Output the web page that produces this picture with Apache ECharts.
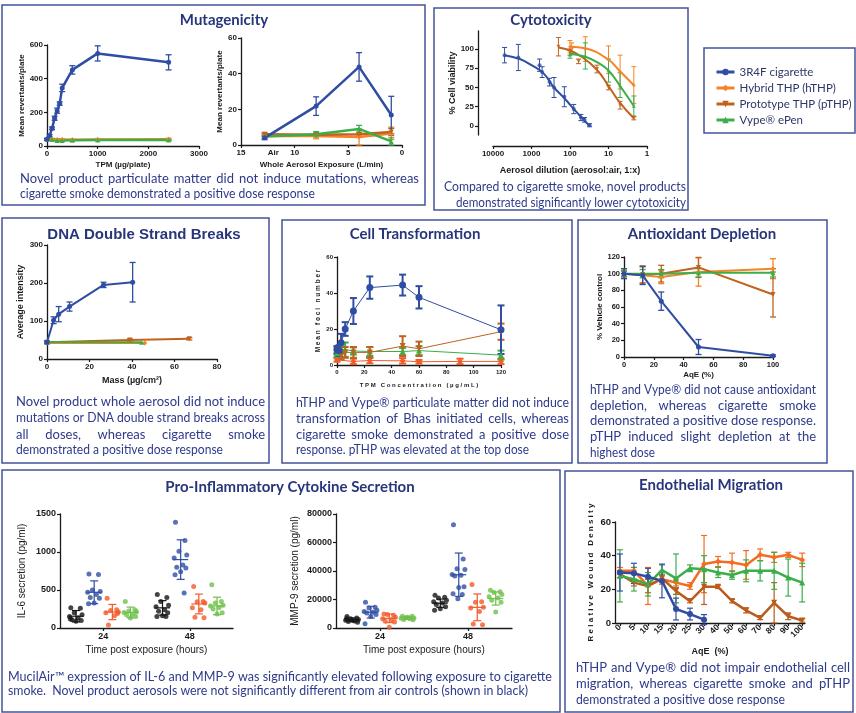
<!DOCTYPE html>
<html>
<head>
<meta charset="utf-8">
<script src="https://cdn.jsdelivr.net/npm/echarts@6.0.0/dist/echarts.min.js"></script>
<style>
  html, body { margin: 0; padding: 0; background: #fff; }
  #chart { width: 856px; height: 713px; }
</style>
</head>
<body>
<div id="chart"></div>
<script>
// ---- data ----

// Mutagenicity, TPM (µg/plate)
var mutTpmX = [0, 50, 100, 150, 200, 250, 300, 500, 1000, 2400];
var mutTpm3r4f = [40, 62, 105, 165, 210, 252, 345, 452, 550, 497];
var mutTpm3r4fErr = [5, 6, 8, 12, 15, 10, 22, 25, 45, 45];
var mutTpmNovX = [0, 100, 200, 300, 500, 1000, 2400];
var mutTpmHthp = [38, 40, 38, 38, 37, 38, 40];
var mutTpmHthpErr = [5, 5, 4, 4, 4, 4, 6];
var mutTpmVype = [40, 38, 33, 33, 34, 36, 35];
var mutTpmVypeErr = [5, 5, 4, 4, 4, 4, 4];

// Mutagenicity, whole aerosol (L/min); first point is the air control
var mutWaX = [12.8, 8, 4, 1];
var mutWa3r4f = [4, 21.8, 43.8, 16.8];
var mutWa3r4fErr = [1, 5.2, 8, 10.5];
var mutWaHthp = [5, 5, 4.5, 6.5];
var mutWaHthpErr = [1.5, 1.5, 4.5, 3.5];
var mutWaPthp = [6, 5.8, 6, 7.3];
var mutWaPthpErr = [1, 1, 1, 2];
var mutWaVype = [4.8, 6, 9, 2];
var mutWaVypeErr = [1, 1.5, 2, 2];
var mutWaLabels = [15, 12, 10, 5, 0];

// Cytotoxicity (dilution 1:x, % viability)
var cytX3r4f = [5000, 2200, 620, 530, 340, 260, 140, 80, 52, 42, 31];
var cyt3r4f = [92, 89, 79, 70, 57, 50, 38, 22, 11, 8, 1];
var cyt3r4fErr = [10, 17, 8, 7, 5, 13, 13, 6, 4, 3, 2];
var cytFitX3r4f = [5000, 2000, 1000, 500, 260, 140, 70, 31];
var cytFit3r4f = [92, 87, 79, 69, 50, 36, 19, 0];
var cytXHthp = [100, 90, 40, 10, 5, 2.2];
var cytHthp = [103, 101, 100, 86, 70, 53];
var cytHthpErr = [8, 7, 16, 18, 22, 24];
var cytFitXHthp = [100, 40, 10, 5, 2.2];
var cytFitHthp = [103, 101, 86, 71, 53];
var cytXPthp = [200, 100, 60, 20, 10, 5, 2.2];
var cytPthp = [103, 96, 84, 74, 50, 27, 10];
var cytPthpErr = [12, 4, 3, 5, 3, 5, 2];
var cytFitXPthp = [200, 100, 50, 20, 10, 5, 2.2];
var cytFitPthp = [102, 98, 90, 73, 52, 30, 10];
var cytXVype = [100, 40, 10, 5, 2.2];
var cytVype = [93, 91, 72, 53, 26];
var cytVypeErr = [5, 17, 15, 16, 13];
var cytFitXVype = [100, 40, 20, 10, 5, 2.2];
var cytFitVype = [94, 90, 83, 72, 52, 26];
var cytYLabels = [0, 25, 50, 75, 100];

// DNA double strand breaks (mass µg/cm2, intensity)
var dnaX3r4f = [0, 3.1, 5.5, 10.6, 26.6, 40.3];
var dna3r4f = [44, 102, 118, 138, 195, 202];
var dna3r4fErr = [4, 9, 20, 12, 7, 52];
var dnaXPthp = [0, 39, 67];
var dnaPthp = [44, 50, 53];
var dnaPthpErr = [2, 3, 3];
var dnaXHthp = [0, 46];
var dnaHthp = [42, 42];
var dnaXVype = [0, 44.5];
var dnaVype = [45, 44];

// Cell transformation (TPM µg/mL, foci)
var ctaX3r4f = [0, 1.5, 3, 6, 12, 24, 48, 60, 120];
var cta3r4f = [8.5, 8, 12.3, 20, 30, 43, 44.4, 37.6, 19.6];
var cta3r4fErr = [2, 3, 5, 3.8, 7.2, 6.2, 5.8, 6.2, 13.5];
var ctaXNov = [0, 3, 6, 12, 24, 48, 60, 120];
var ctaPthp = [8, 5, 7, 7, 7, 10.5, 9, 18.5];
var ctaPthpErr = [2, 2, 3, 3, 3, 5.5, 4, 4.5];
var ctaVype = [6.5, 9, 8.5, 7.8, 7.5, 7.5, 8, 5.5];
var ctaVypeErr = [2, 2.5, 4, 2, 2.5, 2, 2.5, 2.5];
var ctaXHthp = [0, 12, 24, 48, 60, 90, 120];
var ctaHthp = [2.8, 2, 2.5, 2.3, 1.8, 2, 2];
var ctaHthpErr = [1, 1.5, 1.5, 1.5, 1, 1.5, 1.5];

// Antioxidant depletion (AqE %, % vehicle control)
var aoX = [0, 12.5, 25, 50, 100];
var ao3r4f = [100, 98, 67, 12, 1.5];
var ao3r4fErr = [6, 11, 11, 9, 1];
var aoHthp = [100, 98, 96, 102, 106];
var aoHthpErr = [4, 10, 8, 17, 12];
var aoPthp = [100, 99, 100, 107.5, 75];
var aoPthpErr = [3, 10, 10, 12, 27];
var aoVype = [100, 100, 100, 101, 101];
var aoVypeErr = [4, 5, 5, 5, 5];

// Cytokines: individual wells per group (air, 3R4F, hTHP, Vype)
var il6Air24 = [265, 260, 200, 175, 150, 130, 110, 100, 90, 120];
var il63r4f24 = [710, 705, 500, 480, 470, 440, 400, 390, 330, 320];
var il6Hthp24 = [390, 240, 230, 210, 200, 160, 40, 190];
var il6Vype24 = [350, 240, 225, 215, 205, 180, 175, 150, 130];
var il6Air48 = [440, 400, 350, 300, 280, 240, 220, 200, 160, 150, 150];
var il63r4f48 = [1390, 1150, 1010, 960, 920, 830, 800, 790, 740, 700, 460];
var il6Hthp48 = [545, 350, 345, 330, 265, 240, 140, 135];
var il6Vype48 = [570, 350, 330, 300, 290, 270, 250, 200, 185];
var il6Mean = [155, 470, 210, 205, 265, 900, 316, 290];
var il6Sd = [75, 150, 100, 70, 95, 260, 130, 115];

var mmpAir24 = [8000, 7000, 6500, 6000, 5500, 5000, 4500, 4000, 5500, 6500];
var mmp3r4f24 = [18000, 14500, 14000, 12500, 11500, 11000, 10500, 9500, 8000, 3000];
var mmpHthp24 = [9800, 9000, 9400, 7500, 6500, 5800, 4700, 4200, 500];
var mmpVype24 = [8300, 8200, 7200, 7000, 6800, 6500, 6000, 5800, 7500];
var mmpAir48 = [23000, 21500, 21000, 19500, 18500, 17500, 16500, 15000, 13500, 12500];
var mmp3r4f48 = [72500, 48500, 41500, 41000, 37500, 37000, 36500, 29000, 28500, 24000, 23500, 20500];
var mmpHthp48 = [30500, 18500, 18000, 14500, 14000, 11500, 2800, 2200];
var mmpVype48 = [26500, 25500, 25000, 23500, 22000, 21000, 19500, 18000, 11200];
var mmpMean = [5800, 11100, 6800, 7100, 17400, 37400, 14500, 20700];
var mmpSd = [1300, 4100, 3000, 1000, 2900, 15200, 9400, 4600];
var timeLabels = ['24', '48'];

// Endothelial migration (AqE %, relative wound density)
var endoCats = ['0', '5', '10', '15', '20', '25', '30', '40', '50', '60', '70', '80', '90', '100'];
var endo3r4f = [30, 29.5, 27.5, 25, 8.3, 5.3, 2];
var endo3r4fErr = [11, 6, 5, 10, 6.5, 3.5, 3];
var endoHthp = [31, 31, 22, 26, 24, 22, 35, 36.5, 36, 34.5, 40.5, 39, 40.5, 37.5];
var endoHthpErr = [2, 2, 11, 3, 2, 2, 17, 3, 5.5, 8.5, 3.5, 3, 1.5, 4];
var endoPthp = [29, 24, 22, 26.5, 19, 13, 21.5, 21.5, 13, 7.5, 3, 12, 4, 1.5];
var endoPthpErr = [2, 2, 4, 2, 2, 1, 10.5, 1, 1, 1.5, 1, 12, 2, 1];
var endoVype = [28, 26, 23, 31.5, 26.5, 32.5, 32, 30, 28.5, 31, 31, 31, 27, 24];
var endoVypeErr = [15.5, 7, 7, 3, 14.5, 2, 8, 3, 2.5, 6.5, 6, 11, 11, 11.5];

var legendNames = ['3R4F cigarette', 'Hybrid THP (hTHP)', 'Prototype THP (pTHP)', 'Vype\u00AE ePen'];

// ---- styling ----
var BLUE = '#2f4ea3', ORANGE = '#f58426', BROWN = '#c1621e', GREEN = '#3bae4a';
var RED_OR = '#f15a29', LGREEN = '#6fc04b', BLACK = '#151515';
var INK = '#1a1a1a', NAVY = '#27367a', CAPC = '#2e3a8a', BOX = '#44539a';
var SYM = {
  blue: ['circle', 0], orange: ['diamond', 0], brown: ['triangle', 180], green: ['triangle', 0]
};

function merge(a, b) {
  var o = {}, k;
  for (k in a) o[k] = a[k];
  for (k in b) {
    if (b[k] && typeof b[k] === 'object' && !Array.isArray(b[k]) && a[k] && typeof a[k] === 'object') o[k] = merge(a[k], b[k]);
    else o[k] = b[k];
  }
  return o;
}

function axis(gi, opt) {
  return merge({
    type: 'value', gridIndex: gi, nameLocation: 'middle',
    axisLine: { show: true, onZero: false, lineStyle: { color: INK, width: 1.3 } },
    axisTick: { show: true, length: 3, lineStyle: { color: INK, width: 1.2 } },
    axisLabel: { color: INK, fontSize: 8, fontWeight: 'bold', fontFamily: 'Liberation Sans', margin: 4 },
    splitLine: { show: false },
    nameTextStyle: { color: INK, fontSize: 8, fontWeight: 'bold', fontFamily: 'Liberation Sans' }
  }, opt);
}

function errRender(cap, lw, color, meanW) {
  return function (params, api) {
    var x = api.value(0);
    var a = api.coord([x, api.value(1)]), b = api.coord([x, api.value(2)]);
    var st = { stroke: color, lineWidth: lw };
    var ch = [
      { type: 'line', shape: { x1: a[0], y1: a[1], x2: b[0], y2: b[1] }, style: st },
      { type: 'line', shape: { x1: a[0] - cap, y1: a[1], x2: a[0] + cap, y2: a[1] }, style: st },
      { type: 'line', shape: { x1: b[0] - cap, y1: b[1], x2: b[0] + cap, y2: b[1] }, style: st }
    ];
    if (meanW) {
      var m = api.coord([x, api.value(3)]);
      ch.push({ type: 'line', shape: { x1: m[0] - meanW, y1: m[1], x2: m[0] + meanW, y2: m[1] }, style: st });
    }
    return { type: 'group', children: ch };
  };
}

function errSeries(gi, xs, ys, es, color, cap, lw) {
  return {
    type: 'custom', xAxisIndex: gi, yAxisIndex: gi, silent: true, animation: false, z: 2,
    data: xs.map(function (x, i) { return [x, ys[i] - es[i], ys[i] + es[i]]; }),
    encode: { x: 0, y: [1, 2] },
    renderItem: errRender(cap, lw, color)
  };
}

var series = [];
function addGroup(gi, xs, ys, es, color, sym, o) {
  o = o || {};
  series.push({
    type: 'line', xAxisIndex: gi, yAxisIndex: gi, silent: true, animation: false, z: 3,
    data: xs.map(function (x, i) { return [x, ys[i]]; }),
    symbol: sym[0], symbolRotate: sym[1], symbolSize: o.size || 6,
    lineStyle: { color: color, width: o.lw || 2 }, itemStyle: { color: color }
  });
  if (es) series.push(errSeries(gi, xs, ys, es, color, o.cap || 3, o.elw || 1.3));
}

// 0: mutagenicity TPM
addGroup(0, mutTpmNovX, mutTpmHthp, mutTpmHthpErr, ORANGE, SYM.orange, { lw: 2.5, size: 5 });
addGroup(0, mutTpmNovX, mutTpmVype, mutTpmVypeErr, GREEN, SYM.green, { lw: 2.5, size: 5 });
addGroup(0, mutTpmX, mutTpm3r4f, mutTpm3r4fErr, BLUE, SYM.blue, { lw: 2.5, size: 5 });
// 1: mutagenicity whole aerosol
addGroup(1, mutWaX, mutWaHthp, mutWaHthpErr, ORANGE, SYM.orange, { lw: 2.5, size: 5 });
addGroup(1, mutWaX, mutWaPthp, mutWaPthpErr, BROWN, SYM.brown, { lw: 2.5, size: 5 });
addGroup(1, mutWaX, mutWaVype, mutWaVypeErr, GREEN, SYM.green, { lw: 2.5, size: 5 });
addGroup(1, mutWaX, mutWa3r4f, mutWa3r4fErr, BLUE, SYM.blue, { lw: 2.5, size: 5 });

// 2: cytotoxicity – fitted curves carry the legend names
var cytGroups = [
  [legendNames[0], cytFitX3r4f, cytFit3r4f, cytX3r4f, cyt3r4f, cyt3r4fErr, BLUE, SYM.blue],
  [legendNames[1], cytFitXHthp, cytFitHthp, cytXHthp, cytHthp, cytHthpErr, ORANGE, SYM.orange],
  [legendNames[2], cytFitXPthp, cytFitPthp, cytXPthp, cytPthp, cytPthpErr, BROWN, SYM.brown],
  [legendNames[3], cytFitXVype, cytFitVype, cytXVype, cytVype, cytVypeErr, GREEN, SYM.green]
];
cytGroups.forEach(function (g) {
  series.push({
    type: 'line', name: g[0], xAxisIndex: 2, yAxisIndex: 2, silent: true, animation: false, z: 3,
    data: g[1].map(function (x, i) { return [x, g[2][i]]; }),
    smooth: 0.45, showSymbol: false, symbol: g[7][0], symbolRotate: g[7][1], symbolSize: 6,
    lineStyle: { color: g[6], width: 2 }, itemStyle: { color: g[6] }
  });
  series.push({
    type: 'scatter', xAxisIndex: 2, yAxisIndex: 2, silent: true, animation: false, z: 4,
    data: g[3].map(function (x, i) { return [x, g[4][i]]; }),
    symbol: g[7][0], symbolRotate: g[7][1], symbolSize: 4, itemStyle: { color: g[6] }
  });
  series.push(errSeries(2, g[3], g[4], g[5], g[6], 2.5, 1));
});

// 3: DNA
addGroup(3, dnaXHthp, dnaHthp, null, ORANGE, SYM.orange, { size: 5 });
addGroup(3, dnaXPthp, dnaPthp, dnaPthpErr, BROWN, SYM.brown, { size: 5 });
addGroup(3, dnaXVype, dnaVype, null, GREEN, SYM.green, { size: 5 });
addGroup(3, dnaX3r4f, dna3r4f, dna3r4fErr, BLUE, SYM.blue, { size: 5 });

// 4: cell transformation
addGroup(4, ctaXHthp, ctaHthp, ctaHthpErr, RED_OR, SYM.orange, { lw: 1, size: 6, elw: 2, cap: 3.5 });
addGroup(4, ctaXNov, ctaVype, ctaVypeErr, GREEN, SYM.green, { lw: 1, size: 6, elw: 2, cap: 3.5 });
addGroup(4, ctaXNov, ctaPthp, ctaPthpErr, BROWN, SYM.brown, { lw: 1, size: 6, elw: 2, cap: 3.5 });
addGroup(4, ctaX3r4f, cta3r4f, cta3r4fErr, BLUE, SYM.blue, { lw: 1, size: 7, elw: 2, cap: 3.5 });

// 5: antioxidant
addGroup(5, aoX, aoHthp, aoHthpErr, ORANGE, SYM.orange, { size: 5 });
addGroup(5, aoX, aoPthp, aoPthpErr, BROWN, SYM.brown, { size: 5 });
addGroup(5, aoX, aoVype, aoVypeErr, GREEN, SYM.green, { size: 5 });
addGroup(5, aoX, ao3r4f, ao3r4fErr, BLUE, SYM.blue, { size: 5 });

// 6, 7: cytokines
var groupOffset = [-0.63, -0.21, 0.21, 0.63];
var jitter = [-0.12, 0.1, -0.04, 0.14, -0.15, 0.05, -0.09, 0.12, 0, -0.13, 0.08, -0.02];
var cytoColors = [BLACK, BLUE, RED_OR, LGREEN];
function addCytokine(gi, sets, means, sds) {
  sets.forEach(function (vals, k) {
    var t = Math.floor(k / 4), g = k % 4, cx = 1 + 2 * t + groupOffset[g];
    series.push({
      type: 'scatter', xAxisIndex: gi, yAxisIndex: gi, silent: true, animation: false, z: 3,
      symbolSize: 5, itemStyle: { color: cytoColors[g] },
      data: vals.map(function (v, i) { return [cx + jitter[i % jitter.length], v]; })
    });
    series.push({
      type: 'custom', xAxisIndex: gi, yAxisIndex: gi, silent: true, animation: false, z: 4,
      data: [[cx, means[k] - sds[k], means[k] + sds[k], means[k]]],
      encode: { x: 0, y: [1, 2] },
      renderItem: errRender(4, 1.2, cytoColors[g], 7.5)
    });
  });
}
addCytokine(6, [il6Air24, il63r4f24, il6Hthp24, il6Vype24, il6Air48, il63r4f48, il6Hthp48, il6Vype48], il6Mean, il6Sd);
addCytokine(7, [mmpAir24, mmp3r4f24, mmpHthp24, mmpVype24, mmpAir48, mmp3r4f48, mmpHthp48, mmpVype48], mmpMean, mmpSd);

// 8: endothelial migration (x = category index)
var endoIdx = endoCats.map(function (c, i) { return i; });
addGroup(8, endoIdx, endoHthp, endoHthpErr, '#f36c21', SYM.orange, { lw: 2.5, size: 6, elw: 1.2 });
addGroup(8, endoIdx, endoPthp, endoPthpErr, '#b95c1c', SYM.brown, { lw: 2.5, size: 6, elw: 1.2 });
addGroup(8, endoIdx, endoVype, endoVypeErr, GREEN, SYM.green, { lw: 2.5, size: 6, elw: 1.2 });
addGroup(8, endoIdx.slice(0, endo3r4f.length), endo3r4f, endo3r4fErr, BLUE, SYM.blue, { lw: 2.5, size: 6, elw: 1.2 });

// ---- axes ----
var num = function (v) { return String(Math.round(v)); };
var xAxes = [
  axis(0, { min: 0, max: 3000, interval: 1000, name: 'TPM (\u00B5g/plate)', nameGap: 15, axisLabel: { formatter: num } }),
  axis(1, { min: 0, max: 15, inverse: true, name: 'Whole Aerosol Exposure (L/min)', nameGap: 16,
    axisTick: { customValues: [15, 10, 5, 0] },
    axisLabel: { customValues: mutWaLabels, formatter: function (v) { return v === 12 ? 'Air' : String(v); } } }),
  axis(2, { type: 'log', logBase: 10, min: 1, max: 10000, inverse: true, offset: 11,
    name: 'Aerosol dilution (aerosol:air, 1:x)', nameGap: 20, nameTextStyle: { fontSize: 9 },
    axisLabel: { formatter: num }, minorTick: { show: false } }),
  axis(3, { min: 0, max: 80, interval: 20, name: 'Mass (\u00B5g/cm\u00B2)', nameGap: 17, nameTextStyle: { fontSize: 9 } }),
  axis(4, { min: 0, max: 120, interval: 20, name: 'T P M   C o n c e n t r a t i o n   ( \u00B5 g / m L )', nameGap: 17,
    axisLabel: { fontSize: 6 }, nameTextStyle: { fontSize: 6 } }),
  axis(5, { min: 0, max: 100, interval: 20, name: 'AqE (%)', nameGap: 14, axisLabel: { fontSize: 7.5 } }),
  axis(6, { min: 0, max: 4, name: 'Time post exposure (hours)', nameGap: 17,
    nameTextStyle: { fontSize: 10, fontWeight: 'normal' },
    axisTick: { customValues: [1, 3] },
    axisLabel: { fontSize: 9, customValues: [1, 3], formatter: function (v) { return timeLabels[(v - 1) / 2]; } } }),
  axis(7, { min: 0, max: 4, name: 'Time post exposure (hours)', nameGap: 17,
    nameTextStyle: { fontSize: 10, fontWeight: 'normal' },
    axisTick: { customValues: [1, 3] },
    axisLabel: { fontSize: 9, customValues: [1, 3], formatter: function (v) { return timeLabels[(v - 1) / 2]; } } }),
  axis(8, { min: -0.35, max: 13.2, name: 'AqE  (%)', nameGap: 24, nameTextStyle: { fontSize: 9 },
    axisTick: { customValues: endoIdx },
    axisLabel: { fontSize: 8.5, rotate: 45, margin: 3, customValues: endoIdx,
      formatter: function (v) { return endoCats[v]; } } })
];
var yAxes = [
  axis(0, { min: 0, max: 600, interval: 200, name: 'Mean revertants/plate', nameGap: 19 }),
  axis(1, { min: 0, max: 60, interval: 20, name: 'Mean revertants/plate', nameGap: 15 }),
  axis(2, { min: -11.7, max: 123.4, offset: 15, name: '% Cell viability', nameGap: 21, nameTextStyle: { fontSize: 9 },
    axisTick: { customValues: cytYLabels }, axisLabel: { customValues: cytYLabels } }),
  axis(3, { min: 0, max: 300, interval: 100, name: 'Average intensity', nameGap: 22, nameTextStyle: { fontSize: 9 } }),
  axis(4, { min: 0, max: 60, interval: 20, name: 'M e a n   f o c i   n u m b e r', nameGap: 15,
    axisLabel: { fontSize: 6 }, nameTextStyle: { fontSize: 6.5 } }),
  axis(5, { min: 0, max: 120, interval: 20, name: '% Vehicle control', nameGap: 18, axisLabel: { fontSize: 7.5 } }),
  axis(6, { min: 0, max: 1500, interval: 500, name: 'IL-6 secretion (pg/ml)', nameGap: 33,
    nameTextStyle: { fontSize: 10, fontWeight: 'normal' }, axisLabel: { fontSize: 9, formatter: num } }),
  axis(7, { min: 0, max: 80000, interval: 20000, name: 'MMP-9 secretion (pg/ml)', nameGap: 36,
    nameTextStyle: { fontSize: 10, fontWeight: 'normal' }, axisLabel: { fontSize: 9, formatter: num } }),
  axis(8, { min: 0, max: 60, interval: 20, name: 'R e l a t i v e   W o u n d   D e n s i t y', nameGap: 20,
    nameTextStyle: { fontSize: 8 }, axisLabel: { fontSize: 9.5 } })
];

// ---- boxes, titles, captions ----
var graphic = [];
function box(x1, y1, x2, y2) {
  graphic.push({ type: 'rect', silent: true, shape: { x: x1, y: y1, width: x2 - x1, height: y2 - y1 },
    style: { fill: 'none', stroke: BOX, lineWidth: 1.5 } });
}
box(2, 5, 425, 205); box(434, 8, 688, 210); box(704, 48, 855, 133);
box(2, 218, 269, 463); box(282, 220, 572, 463); box(578, 220, 827, 463);
box(2, 470, 560, 712); box(565, 471, 853, 712);

function title(t, cx, cy, fam) {
  graphic.push({ type: 'text', silent: true, x: cx, y: cy,
    style: { text: t, fill: NAVY, fontSize: 15, fontWeight: 'bold', fontFamily: fam || 'Lato', align: 'center', verticalAlign: 'middle' } });
}
title('Mutagenicity', 224, 20);
title('Cytotoxicity', 551, 20);
title('DNA Double Strand Breaks', 144, 235, 'Liberation Sans');
title('Cell Transformation', 415, 234);
title('Antioxidant Depletion', 702, 234);
title('Pro-Inflammatory Cytokine Secretion', 290, 487);
title('Endothelial Migration', 711, 485);

var measure = document.createElement('canvas').getContext('2d');
var CAP_SIZE = 13;
function capLine(text, x, y, w) {
  measure.font = CAP_SIZE + 'px Lato';
  var st = { fill: CAPC, fontSize: CAP_SIZE, fontFamily: 'Lato', verticalAlign: 'middle' };
  var nat = measure.measureText(text).width;
  var words = text.split(' ');
  if (nat >= w || words.length < 2) {
    graphic.push({ type: 'text', silent: true, x: x, y: y, scaleX: Math.min(1, w / nat), style: merge(st, { text: text }) });
    return;
  }
  var ww = words.map(function (t) { return measure.measureText(t).width; });
  var sum = ww.reduce(function (a, b) { return a + b; }, 0);
  var gap = (w - sum) / (words.length - 1), cx = x;
  words.forEach(function (t, i) {
    graphic.push({ type: 'text', silent: true, x: cx, y: y, style: merge(st, { text: t }) });
    cx += ww[i] + gap;
  });
}
function caption(lines, xs, ys, ws) {
  lines.forEach(function (t, i) {
    capLine(t, Array.isArray(xs) ? xs[i] : xs, ys[i], Array.isArray(ws) ? ws[i] : ws);
  });
}
caption(['Novel product particulate matter did not induce mutations, whereas',
  'cigarette smoke demonstrated a positive dose response'], 20, [179, 194], [399, 295]);
caption(['Compared to cigarette smoke, novel products',
  'demonstrated significantly lower cytotoxicity'], [444, 456], [187, 203], [242, 230]);
caption(['Novel product whole aerosol did not induce',
  'mutations or DNA double strand breaks across',
  'all doses, whereas cigarette smoke',
  'demonstrated a positive dose response'], 16, [402, 418, 435, 450], [249, 249, 249, 207]);
caption(['hTHP and Vype\u00AE particulate matter did not induce',
  'transformation of Bhas initiated cells, whereas',
  'cigarette smoke demonstrated a positive dose',
  'response. pTHP was elevated at the top dose'], 296, [403, 419, 435, 450], [273, 273, 273, 233]);
caption(['hTHP and Vype\u00AE did not cause antioxidant',
  'depletion, whereas cigarette smoke',
  'demonstrated a positive dose response.',
  'pTHP induced slight depletion at the',
  'highest dose'], 590, [390, 406, 421, 437, 453], [226, 226, 226, 226, 65]);
caption(['MucilAir\u2122 expression of IL-6 and MMP-9 was significantly elevated following exposure to cigarette',
  'smoke.  Novel product aerosols were not significantly different from air controls (shown in black)'],
  8, [677, 691], [544, 520]);
caption(['hTHP and Vype\u00AE did not impair endothelial cell',
  'migration, whereas cigarette smoke and pTHP',
  'demonstrated a positive dose response'], 576, [668, 684, 700], [274, 274, 209]);

var chart = echarts.init(document.getElementById('chart'), null, { renderer: 'canvas' });
chart.setOption({
  animation: false,
  backgroundColor: '#fff',
  grid: [
    { left: 47, top: 45, width: 152, height: 101 },
    { left: 241, top: 38, width: 161, height: 107 },
    { left: 493, top: 31, width: 154, height: 104 },
    { left: 47, top: 245, width: 170, height: 114 },
    { left: 337, top: 257, width: 164, height: 108 },
    { left: 624, top: 257, width: 149, height: 100 },
    { left: 60, top: 514, width: 173, height: 114 },
    { left: 336, top: 514, width: 176, height: 114 },
    { left: 615, top: 522, width: 190, height: 101 }
  ],
  xAxis: xAxes,
  yAxis: yAxes,
  legend: {
    data: legendNames, orient: 'vertical', left: 710, top: 60,
    itemWidth: 18, itemHeight: 8, itemGap: 2, selectedMode: false,
    lineStyle: { width: 3 },
    textStyle: { fontFamily: 'Lato', fontSize: 11.5, color: '#2b3766', lineHeight: 14 }
  },
  graphic: graphic,
  series: series
});
</script>
</body>
</html>
